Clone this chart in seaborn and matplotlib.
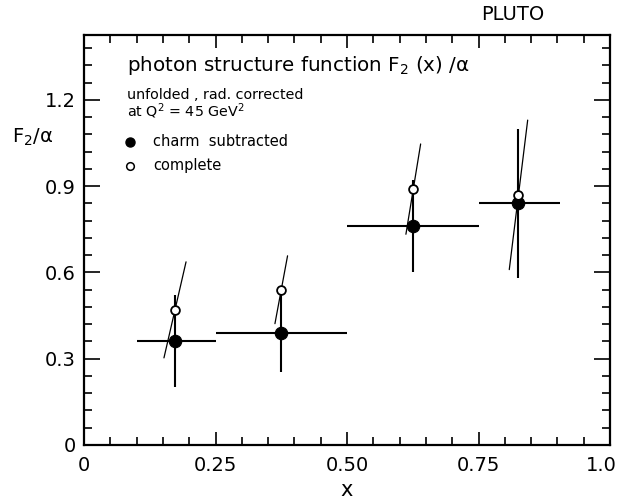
import numpy as np
import pandas as pd
import matplotlib
matplotlib.use("Agg")
import matplotlib.pyplot as plt
import matplotlib.transforms as mtransforms
import seaborn as sns
from matplotlib.ticker import MultipleLocator, FixedLocator

# ---- data ----
x_center = [0.173, 0.375, 0.626, 0.826]
x_low = [0.10, 0.25, 0.50, 0.75]
x_high = [0.25, 0.50, 0.75, 0.905]
f2_charm_sub = [0.36, 0.39, 0.76, 0.84]
f2_charm_sub_err = [0.16, 0.135, 0.16, 0.26]
f2_complete = [0.47, 0.54, 0.89, 0.87]
f2_complete_err = [0.167, 0.118, 0.157, 0.26]
complete_err_tilt = [0.021, 0.012, 0.014, 0.0175]

x_ticks = [0, 0.25, 0.5, 0.75, 1.0]
x_tick_labels = ["0", "0.25", "0.50", "0.75", "1.0"]
y_ticks = [0, 0.3, 0.6, 0.9, 1.2]
y_tick_labels = ["0", "0.3", "0.6", "0.9", "1.2"]

df = pd.DataFrame({
    "x": x_center,
    "charm": f2_charm_sub,
    "charm_err": f2_charm_sub_err,
    "complete": f2_complete,
    "complete_err": f2_complete_err,
    "tilt": complete_err_tilt,
    "xlo": x_low,
    "xhi": x_high,
})

sns.set_style("ticks")
plt.rcParams["font.family"] = ["DejaVu Sans"]
plt.rcParams["text.color"] = "black"
plt.rcParams["axes.labelcolor"] = "black"
plt.rcParams["xtick.color"] = "black"
plt.rcParams["ytick.color"] = "black"
plt.rcParams["xtick.labelcolor"] = "black"
plt.rcParams["ytick.labelcolor"] = "black"

fig = plt.figure(figsize=(6.18, 5.03), dpi=100)
W, H = 618, 503
ax = fig.add_axes([84 / W, 1 - 445 / H, (610 - 84) / W, (445 - 35) / H])

ax.set_xlim(0, 1.0)
ax.set_ylim(0, 1.426)

# error bars for charm subtracted (horizontal bin width + vertical error)
ax.errorbar(df["x"], df["charm"],
            xerr=[df["x"] - df["xlo"], df["xhi"] - df["x"]],
            yerr=df["charm_err"], fmt="none", ecolor="black",
            elinewidth=1.5, capsize=0, zorder=2)

# tilted error lines for complete
for _, r in df.iterrows():
    ax.plot([r["x"] - r["tilt"], r["x"] + r["tilt"]],
            [r["complete"] - r["complete_err"], r["complete"] + r["complete_err"]],
            color="black", lw=0.9, zorder=2)

sns.scatterplot(data=df, x="x", y="charm", ax=ax, s=80, color="black",
                edgecolor="black", linewidth=0.8, zorder=4, legend=False)
sns.scatterplot(data=df, x="x", y="complete", ax=ax, s=40, color="white",
                edgecolor="black", linewidth=1.3, zorder=4, legend=False)

# axes styling
for sp in ax.spines.values():
    sp.set_visible(True)
    sp.set_linewidth(1.6)
    sp.set_color("black")

ax.xaxis.set_major_locator(FixedLocator(x_ticks))
ax.set_xticklabels(x_tick_labels)
ax.xaxis.set_minor_locator(MultipleLocator(0.05))
ax.yaxis.set_major_locator(FixedLocator(y_ticks))
ax.set_yticklabels(y_tick_labels)
ax.yaxis.set_minor_locator(MultipleLocator(0.06))

ax.tick_params(which="both", direction="in", top=True, right=True,
               color="black", labelcolor="black", width=1.2)
ax.tick_params(axis="x", which="major", length=9.5, pad=8, labelsize=14)
ax.tick_params(axis="y", which="major", length=11.5, pad=6, labelsize=14)
ax.tick_params(which="minor", length=6)

# keep the last x tick label inside the figure
last = ax.get_xticklabels()[-1]
last.set_horizontalalignment("right")
last.set_transform(last.get_transform() +
                   mtransforms.ScaledTranslation(7 / 100, 0, fig.dpi_scale_trans))

ax.set_xlabel("x", fontsize=15, color="black")
ax.xaxis.set_label_coords(0.5, -(490 - 445) / 410, transform=ax.transAxes)
ax.xaxis.label.set_va("center")
ax.set_ylabel("")

# y label
ax.text((33 - 84) / 526, (445 - 137) / 287.5, r"F$_2$/α", fontsize=14,
        ha="center", va="center", transform=ax.get_yaxis_transform(),
        color="black")

# PLUTO
fig.text(513 / W, 1 - 14 / H, "PLUTO", fontsize=14, ha="center", va="center",
         color="black")

# in-plot annotation block
tx = (127 - 84) / 526
def ydat(py):
    return (445 - py) / 287.5

ax.text(tx, ydat(66), r"photon structure function F$_2$ (x) /α", fontsize=14.3,
        ha="left", va="center", color="black")
ax.text(tx, ydat(95), "unfolded , rad. corrected", fontsize=10.3,
        ha="left", va="center", color="black")
ax.text(tx, ydat(111), r"at Q$^2$ = 45 GeV$^2$", fontsize=10.3,
        ha="left", va="center", color="black")
ax.plot([(130 - 84) / 526], [ydat(142)], "o", color="black", ms=6.5)
ax.text((153 - 84) / 526, ydat(142), "charm  subtracted", fontsize=10.5,
        ha="left", va="center", color="black")
ax.plot([(130 - 84) / 526], [ydat(166)], "o", mfc="white", mec="black",
        ms=5.5, mew=1.1)
ax.text((153 - 84) / 526, ydat(166), "complete", fontsize=10.5,
        ha="left", va="center", color="black")

fig.savefig("out.png", dpi=100)
